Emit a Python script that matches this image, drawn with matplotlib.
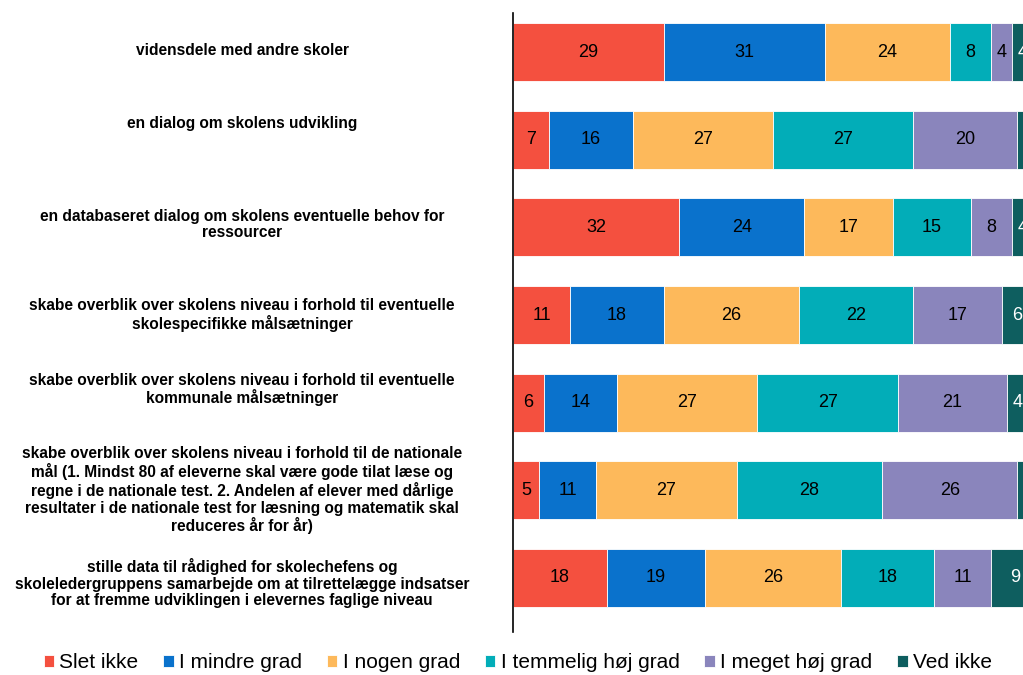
import matplotlib
matplotlib.use('Agg')
import matplotlib.pyplot as plt
import matplotlib.transforms as mtransforms
import numpy as np

plt.rcParams['font.family'] = ['Liberation Sans', 'DejaVu Sans']

# ── Data ──────────────────────────────────────────────
categories = [
    "vidensdele med andre skoler",
    "en dialog om skolens udvikling",
    "en databaseret dialog om skolens eventuelle behov for\nressourcer",
    "skabe overblik over skolens niveau i forhold til eventuelle\nskolespecifikke målsætninger",
    "skabe overblik over skolens niveau i forhold til eventuelle\nkommunale målsætninger",
    "skabe overblik over skolens niveau i forhold til de nationale\n"
    "mål (1. Mindst 80 af eleverne skal være gode tilat læse og\n"
    "regne i de nationale test. 2. Andelen af elever med dårlige\n"
    "resultater i de nationale test for læsning og matematik skal\n"
    "reduceres år for år)",
    "stille data til rådighed for skolechefens og\n"
    "skoleledergruppens samarbejde om at tilrettelægge indsatser\n"
    "for at fremme udviklingen i elevernes faglige niveau",
]
series = ["Slet ikke", "I mindre grad", "I nogen grad",
          "I temmelig høj grad", "I meget høj grad", "Ved ikke"]

slet_ikke    = [29, 7, 32, 11, 6, 5, 18]
mindre_grad  = [31, 16, 24, 18, 14, 11, 19]
nogen_grad   = [24, 27, 17, 26, 27, 27, 26]
temmelig_hoj = [8, 27, 15, 22, 27, 28, 18]
meget_hoj    = [4, 20, 8, 17, 21, 26, 11]
ved_ikke     = [4, 4, 4, 6, 4, 4, 9]

values = [slet_ikke, mindre_grad, nogen_grad, temmelig_hoj, meget_hoj, ved_ikke]

# ── Style ─────────────────────────────────────────────
colors = ['#F4503F', '#0A72CC', '#FDB95B', '#02ADB8', '#8A85BC', '#0E5E5F']
text_colors = ['black', 'black', 'black', 'black', 'black', 'white']
label_shift = [-0.02, -0.19, -0.03, 0.0, -0.15, 0.0, 0.06]

fig = plt.figure(figsize=(10.23, 6.75), dpi=100)
ax = fig.add_axes([513 / 1023, 1 - 632 / 675, 520 / 1023, 619 / 675])

y = np.arange(len(categories))
left = np.zeros(len(categories))
for vals, name, c, tc in zip(values, series, colors, text_colors):
    vals = np.array(vals, dtype=float)
    ax.barh(y, vals, left=left, height=0.66, color=c, edgecolor='white',
            linewidth=0.6, label=name)
    for yi, l, v in zip(y, left, vals):
        ax.text(l + v / 2, yi, f"{int(v)}", ha='center', va='center',
                fontsize=13, color=tc)
    left += vals

ax.set_xlim(0, 100)
ax.set_ylim(6.616, -0.445)
for s in ['top', 'right', 'bottom']:
    ax.spines[s].set_visible(False)
ax.spines['left'].set_color('black')
ax.spines['left'].set_linewidth(1.2)
ax.set_xticks([])
ax.set_yticks([])

trans = mtransforms.blended_transform_factory(fig.transFigure, ax.transData)
for yi, cat, dy in zip(y, categories, label_shift):
    ax.text(242 / 1023, yi + dy, cat, transform=trans, ha='center', va='center',
            fontsize=11.2, fontweight='bold', linespacing=1.13, clip_on=False)

fig.legend(loc='center', bbox_to_anchor=(0.506, 1 - 663 / 675), ncol=6,
           frameon=False, fontsize=15, handlelength=0.5, handleheight=0.5,
           handletextpad=0.25, columnspacing=1.2)

plt.savefig('out.png', dpi=100)
plt.close()
